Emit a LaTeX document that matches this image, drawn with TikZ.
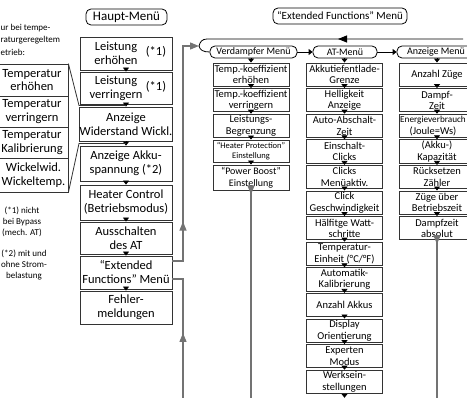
\documentclass[tikz,border=0pt]{standalone}
\usepackage{fontspec}
\setmainfont{Carlito}
\usetikzlibrary{arrows.meta,decorations.markings,calc}
\begin{document}
\begin{tikzpicture}[x=1pt,y=-1pt]
\tikzset{
  bx/.style={draw=black!80, line width=0.8pt, inner sep=0pt, align=center},
  mainbox/.style={bx, minimum width=92pt, font=\fontsize{12.5}{14}\selectfont},
  maintext/.style={inner sep=0pt, align=center, font=\fontsize{12.5}{14}\selectfont},
  leftbox/.style={bx, minimum width=72pt, font=\fontsize{12.5}{13.5}\selectfont},
  subbox/.style={bx, line width=0.9pt, minimum width=76pt, minimum height=23.2pt, font=\fontsize{10.5}{11.5}\selectfont},
  hdr/.style={draw=black, line width=0.8pt, rounded corners=5pt, inner sep=0pt, align=center},
  subhdr/.style={hdr, minimum height=12pt, font=\fontsize{10}{12}\selectfont},
  tip/.style={line width=0.8pt, -{Triangle[width=6pt,length=4pt]}},
  thinline/.style={draw=black!80, line width=0.8pt},
  vline/.style={draw=black!55, line width=1.3pt},
  midarrow/.style={postaction={decorate}, decoration={markings, mark=at position #1 with {\arrow{Triangle[width=7pt,length=9pt]}}}},
  note/.style={inner sep=0pt, font=\fontsize{9}{11}\selectfont}
}
\useasboundingbox (0,0) rectangle (467,398);
\clip (0,0) rectangle (467,398);

% notes
\node[note, align=left, anchor=north west, font=\fontsize{9}{12.5}\selectfont] (N0) at (0.5,24) {ur bei tempe-\\raturgeregeltem\\etrieb:};
\node[note, align=center] (N1) at (22,222) {(*1) nicht\\bei Bypass\\(mech. AT)};
\node[note, align=center] (N2) at (24,265) {(*2) mit und\\ohne Strom-\\belastung};

% headers
\node[hdr, minimum width=81pt, minimum height=16pt, font=\fontsize{13}{15}\selectfont] (HM) at (126.5,17) {Haupt-Menü};
\node[hdr, minimum width=134pt, minimum height=16pt, font=\fontsize{11}{13}\selectfont] (XM) at (340,16) {“Extended Functions” Menü};

% main column
\node[mainbox, minimum height=33pt] (LE) at (126,53.5) {};
\node[maintext] (LEa) at (116,53.5) {Leistung\\erhöhen};
\node[maintext] (LEb) at (156,52) {(*1)};
\node[mainbox, minimum height=32pt] (LV) at (126,88) {};
\node[maintext] (LVa) at (116,88) {Leistung\\verringern};
\node[maintext] (LVb) at (156,86.5) {(*1)};
\node[mainbox, minimum height=34pt] (WD) at (126,124) {Anzeige\\Widerstand Wickl.};
\node[mainbox, minimum height=35pt] (AK) at (126,163.5) {Anzeige Akku-\\spannung (*2)};
\node[mainbox, minimum height=35pt] (HC) at (126,202.5) {Heater Control\\(Betriebsmodus)};
\node[mainbox, minimum height=32pt] (AS) at (126,238) {Ausschalten\\des AT};
\node[mainbox, minimum height=33pt] (EF) at (126,272.5) {“Extended\\Functions” Menü};
\node[mainbox, minimum height=33pt] (FM) at (126,307.5) {Fehler-\\meldungen};
\foreach \a/\b in {LE/LV,LV/WD,WD/AK,AK/HC,HC/AS,AS/EF,EF/FM}
  \draw[tip] (\a.south) -- (\b.north);

% left column
\node[leftbox, minimum height=32pt] (T1) at (32,80) {Temperatur\\erhöhen};
\node[leftbox, minimum height=31pt] (T2) at (32,111.5) {Temperatur\\verringern};
\node[leftbox, minimum height=31pt] (T3) at (32,142.5) {Temperatur\\Kalibrierung};
\node[leftbox, minimum height=34pt] (T4) at (32,175) {};
\node[maintext] (T4a) at (33.5,175) {Wickelwid.\\Wickeltemp.};
\coordinate (J1) at ($(LV.south)!0.5!(WD.north)$);
\coordinate (K1) at (79,105.5);
\coordinate (J2) at ($(WD.south)!0.5!(AK.north)$);
\coordinate (K2) at (79,143.5);
\draw[thinline] (T1.north east) -- (K1) -- (J1);
\draw[thinline] (T4.south east) -- (K2) -- (J2);

% sub headers
\node[subhdr, minimum width=87pt] (VM) at (253.5,52) {Verdampfer Menü};
\node[subhdr, minimum width=64pt] (ATM) at (345,52) {AT-Menü};
\node[subhdr, minimum width=78pt] (AZM) at (436,52) {Anzeige Menü};
\draw[tip] (VM.east) -- (ATM.west);
\draw[tip] (ATM.east) -- (AZM.west);

% link lines at x=183
\coordinate (JB) at (199,46);
\coordinate (B1) at (183,398);
\coordinate (TR) at (463,39);
\draw[vline, midarrow=50pt, -{Triangle[width=7pt,length=9pt]}] ([yshift=11.5pt]EF.east) -- (183,261) -- (183,46) -- (JB);
\draw[vline, midarrow=65pt] (B1) -- (183,279) -- ([yshift=-6.5pt]EF.east);
\draw[thinline, draw=black, midarrow=125pt] (TR) -- (207,39) .. controls (202,39) and (200,42) .. (JB);
\draw[thinline, draw=black] (JB) .. controls (200,50) and (203,52) .. (VM.west);

% Verdampfer column
\node[subbox] (V1) at (251,74.6) {Temp.-koeffizient\\erhöhen};
\node[subbox] (V2) at (251,100.2) {Temp.-koeffizient\\verringern};
\node[subbox] (V3) at (251,125.8) {Leistungs-\\Begrenzung};
\node[subbox, minimum height=22pt, font=\fontsize{8.5}{10}\selectfont] (V4) at (251,151) {“Heater Protection”\\Einstellung};
\node[subbox, minimum height=25pt, font=\fontsize{10}{12}\selectfont] (V5) at (251,177.5) {“Power Boost”\\Einstellung};
\draw[tip] (VM.south -| V1.north) -- (V1.north);
\foreach \a/\b in {V1/V2,V2/V3,V3/V4,V4/V5}
  \draw[tip] (\a.south) -- (\b.north);
\coordinate (BV) at (251,398);
\draw[vline, midarrow=4pt] (V5.south) -- (BV);

% AT column
\node[subbox] (A1) at (344.5,74.6) {Akkutiefentlade-\\Grenze};
\node[subbox] (A2) at (344.5,100.2) {Helligkeit\\Anzeige};
\node[subbox] (A3) at (344.5,125.8) {Auto-Abschalt-\\Zeit};
\node[subbox] (A4) at (344.5,151.4) {Einschalt-\\Clicks};
\node[subbox] (A5) at (344.5,177.0) {Clicks\\Menüaktiv.};
\node[subbox] (A6) at (344.5,202.6) {Click\\Geschwindigkeit};
\node[subbox] (A7) at (344.5,228.2) {Hälfitge Watt-\\schritte};
\node[subbox] (A8) at (344.5,253.8) {Temperatur-\\Einheit (°C/°F)};
\node[subbox] (A9) at (344.5,279.4) {Automatik-\\Kalibrierung};
\node[subbox] (A10) at (344.5,305.0) {Anzahl Akkus};
\node[subbox] (A11) at (344.5,330.6) {Display\\Orientierung};
\node[subbox] (A12) at (344.5,356.2) {Experten\\Modus};
\node[subbox] (A13) at (344.5,381.8) {Werksein-\\stellungen};
\draw[tip] (ATM.south -| A1.north) -- (A1.north);
\foreach \a/\b in {A1/A2,A2/A3,A3/A4,A4/A5,A5/A6,A6/A7,A7/A8,A8/A9,A9/A10,A10/A11,A11/A12,A12/A13}
  \draw[tip] (\a.south) -- (\b.north);
\coordinate (BA) at (344.5,397.8);
\draw[tip] (A13.south) -- (BA);

% Anzeige column
\node[subbox] (Z1) at (437,74.6) {Anzahl Züge};
\node[subbox] (Z2) at (437,100.2) {Dampf-\\Zeit};
\node[subbox] (Z3) at (437,125.8) {};
\node[inner sep=0pt, align=center, font=\fontsize{9.2}{11.5}\selectfont] (Z3a) at (433,125.8) {Energieverbrauch\\{\fontsize{10.5}{11.5}\selectfont (Joule=Ws)}};
\node[subbox] (Z4) at (437,151.4) {(Akku-)\\Kapazität};
\node[subbox] (Z5) at (437,177.0) {Rücksetzen\\Zähler};
\node[subbox] (Z6) at (437,202.6) {Züge über\\Betriebszeit};
\node[subbox] (Z7) at (437,228.2) {Dampfzeit\\absolut};
\draw[tip] (AZM.south -| Z1.north) -- (Z1.north);
\foreach \a/\b in {Z1/Z2,Z2/Z3,Z3/Z4,Z4/Z5,Z5/Z6,Z6/Z7}
  \draw[tip] (\a.south) -- (\b.north);
\coordinate (BZ) at (437,398);
\draw[vline, midarrow=4pt] (Z7.south) -- (BZ);
\end{tikzpicture}
\end{document}
